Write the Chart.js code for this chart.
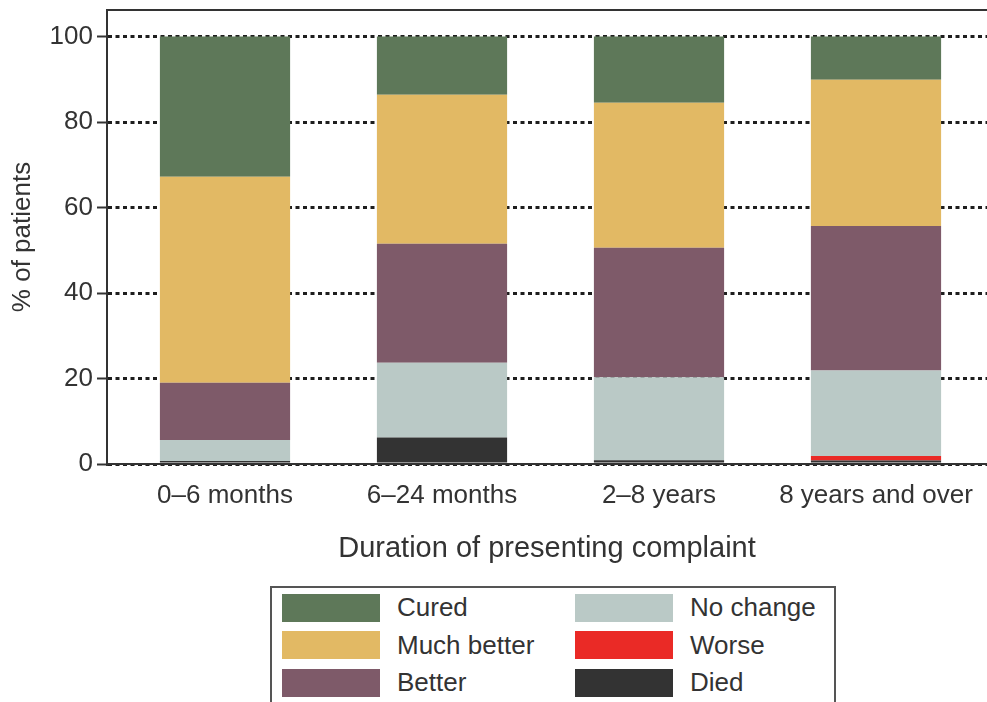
<!DOCTYPE html>
<html>
<head>
<meta charset="utf-8">
<script src="https://cdn.jsdelivr.net/npm/chart.js@4/dist/chart.umd.min.js"></script>
<style>
  body { margin: 0; width: 987px; height: 702px; overflow: hidden; background: #fff; font-family: "Liberation Sans", Arial, sans-serif; }
  #wrap { position: absolute; left: 0; top: 0; width: 987px; height: 570px; }
  #legend { position: absolute; left: 270px; top: 586px; width: 566px; height: 140px; border: 2px solid #555;
            box-sizing: border-box; display: grid; grid-auto-flow: column; grid-template-columns: 293px 1fr;
            grid-template-rows: repeat(3, 37.5px); padding: 1px 0 0 10px; }
  .item { display: flex; align-items: center; font-size: 26px; color: #333; }
  .sw { width: 98px; height: 28px; margin-right: 17px; }
</style>
</head>
<body>
<div id="wrap"><canvas id="graph" width="987" height="570"></canvas></div>
<div id="legend"></div>
<script>
const categories = ["0–6 months", "6–24 months", "2–8 years", "8 years and over"];
const died       = [0.7, 6.2, 0.9, 0.8];
const worse      = [0, 0, 0, 1.1];
const noChange   = [4.9, 17.5, 19.4, 20.0];
const better     = [13.4, 27.8, 30.3, 33.8];
const muchBetter = [48.2, 34.9, 33.9, 34.2];
const cured      = [32.8, 13.6, 15.5, 10.1];
const yTicks     = [0, 20, 40, 60, 80, 100];

const font = "'Liberation Sans', Arial, sans-serif";

// bottom of stack first
const series = [
  { label: 'Died',        data: died,       color: '#333333' },
  { label: 'Worse',       data: worse,      color: '#ea2a26' },
  { label: 'No change',   data: noChange,   color: '#bac9c6' },
  { label: 'Better',      data: better,     color: '#7e5a69' },
  { label: 'Much better', data: muchBetter, color: '#e2b964' },
  { label: 'Cured',       data: cured,      color: '#5e7859' },
];

const dataGraph = {
  datasets: series.map(s => ({
    label: s.label,
    data: s.data.map((v, i) => ({ x: i, y: v })),
    backgroundColor: s.color,
    borderWidth: 0,
    categoryPercentage: 1,
    barPercentage: 0.6,
  }))
};

const topLine = {
  id: 'topLine',
  afterDraw(chart) {
    const a = chart.chartArea, ctx = chart.ctx;
    ctx.save();
    ctx.strokeStyle = '#333';
    ctx.lineWidth = 2;
    ctx.beginPath();
    ctx.moveTo(a.left, a.top);
    ctx.lineTo(a.right, a.top);
    ctx.stroke();
    ctx.restore();
  }
};

const configGraph = {
  type: 'bar',
  data: dataGraph,
  plugins: [topLine],
  options: {
    responsive: false,
    animation: false,
    layout: { padding: { top: 10, left: 0, right: 0, bottom: 0 } },
    plugins: { legend: { display: false }, tooltip: { enabled: false } },
    scales: {
      x: {
        type: 'linear',
        stacked: true,
        offset: false,
        min: -0.5438,
        max: 3.5115,
        afterBuildTicks: s => { s.ticks = categories.map((c, i) => ({ value: i })); },
        afterFit: s => { s.height = 106; s.paddingLeft = 0; s.paddingRight = 0; },
        ticks: {
          callback: v => categories[v],
          color: '#333',
          font: { family: font, size: 26 },
          padding: 16,
          maxRotation: 0,
          autoSkip: false,
        },
        grid: { offset: false, drawOnChartArea: false, drawTicks: false },
        border: { color: '#333', width: 2 },
        title: {
          display: true,
          text: 'Duration of presenting complaint',
          color: '#333',
          font: { family: font, size: 29 },
          padding: { top: 0, bottom: 4 },
        },
      },
      y: {
        stacked: true,
        min: 0,
        max: 106.2,
        afterBuildTicks: s => { s.ticks = yTicks.map(v => ({ value: v })); },
        afterFit: s => { s.width = 107; s.paddingTop = 0; s.paddingBottom = 0; },
        ticks: {
          color: '#333',
          font: { family: font, size: 26 },
          padding: 4,
        },
        grid: {
          color: '#1e1e1e',
          lineWidth: 3,
          tickLength: 10,
          tickColor: '#333',
          tickWidth: 2,
          tickBorderDash: [],
        },
        border: { color: '#333', width: 2, dash: [4, 3.5] },
        title: {
          display: true,
          text: '% of patients',
          color: '#333',
          font: { family: font, size: 26 },
          padding: { top: 7, bottom: 0 },
        },
      },
    },
  },
};

let graphVisible = new Chart(document.getElementById('graph'), configGraph);

// legend: two columns, top to bottom of the stack
let legend = document.getElementById('legend');
graphVisible.data.datasets.slice().reverse().forEach(d => {
  let item = document.createElement('div');
  item.className = 'item';
  item.innerHTML = '<span class="sw" style="background:' + d.backgroundColor + '"></span>' + d.label;
  legend.appendChild(item);
});
</script>
</body>
</html>
